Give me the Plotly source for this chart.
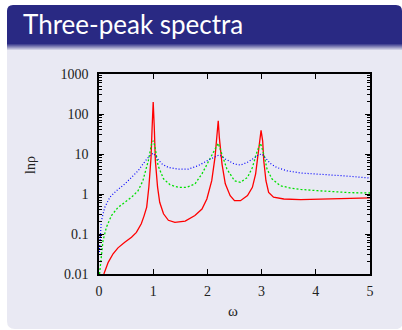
import plotly.graph_objects as go

# ---------------- data ----------------
omega_red = [0.09, 0.17, 0.26, 0.35, 0.475, 0.6, 0.69, 0.78, 0.83, 0.88, 0.92, 0.96, 0.98, 1.0,
             1.02, 1.04, 1.08, 1.12, 1.19, 1.28, 1.40, 1.59, 1.77, 1.9, 1.99, 2.08, 2.14,
             2.18, 2.2, 2.22, 2.27, 2.33, 2.42, 2.5, 2.61, 2.74, 2.83, 2.89, 2.94, 2.97,
             2.99, 3.02, 3.04, 3.08, 3.13, 3.22, 3.41, 3.72, 4.03, 4.34, 4.64, 5.0]
rho_red = [0.01, 0.0196, 0.032, 0.045, 0.062, 0.083, 0.11, 0.18, 0.28, 0.47, 1.5, 8.2, 46, 200,
           46, 6.8, 1.5, 0.62, 0.32, 0.22, 0.195, 0.21, 0.29, 0.42, 0.75, 2.15, 8.2,
           31, 68, 26, 5.6, 1.8, 0.91, 0.68, 0.68, 0.91, 1.47, 3.2, 10, 26,
           39, 21, 6.8, 2.15, 1.1, 0.83, 0.75, 0.72, 0.75, 0.76, 0.78, 0.8]

omega_green = [0.01, 0.03, 0.074, 0.136, 0.23, 0.35, 0.475, 0.6, 0.72, 0.81, 0.91, 0.97, 1.0,
               1.03, 1.09, 1.19, 1.31, 1.46, 1.62, 1.77, 1.9, 2.02, 2.11, 2.2, 2.27, 2.36,
               2.5, 2.61, 2.74, 2.83, 2.92, 2.98, 3.04, 3.10, 3.19, 3.34, 3.53, 3.72, 4.03,
               4.34, 4.64, 5.0]
rho_green = [0.01, 0.021, 0.068, 0.147, 0.29, 0.46, 0.62, 0.83, 1.2, 2.15, 6.8, 17.8, 21.5,
             16, 5.1, 2.4, 1.7, 1.47, 1.47, 1.78, 3.2, 6.8, 11, 18.5, 10, 4.2,
             2.15, 1.96, 2.6, 4.6, 12, 18.5, 10, 4.2, 2.4, 1.62, 1.41, 1.3, 1.21,
             1.13, 1.08, 1.06]

omega_blue = [0.003, 0.012, 0.043, 0.105, 0.2, 0.32, 0.475, 0.6, 0.72, 0.85, 0.94, 1.0, 1.06,
              1.15, 1.28, 1.46, 1.65, 1.83, 2.02, 2.17, 2.22, 2.33, 2.42, 2.5, 2.61, 2.74,
              2.86, 2.95, 3.01, 3.07, 3.16, 3.28, 3.47, 3.72, 4.03, 4.34, 4.64, 5.0]
rho_blue = [0.03, 0.047, 0.21, 0.46, 0.83, 1.2, 1.78, 2.6, 3.8, 6.6, 9.1, 10.5, 8.2,
            5.8, 4.6, 4.2, 4.2, 5.1, 7.1, 9.1, 9.5, 7.5, 6.5, 5.6, 5.3, 6.2,
            7.9, 9.6, 10, 8.2, 5.8, 4.6, 3.8, 3.35, 3.16, 3.0, 2.77, 2.5]

x_ticks = [0, 1, 2, 3, 4, 5]
x_ticklabels = ["0", "1", "2", "3", "4", "5"]
y_ticks = [0.01, 0.1, 1, 10, 100, 1000]
y_ticklabels = ["0.01", "0.1", "1", "10", "100", "1000"]
y_minor = [m * 10.0 ** e for e in range(-2, 3) for m in range(2, 10)]

title_text = "Three-peak spectra"
x_title = "ω"
y_title = "lnρ"

# ---------------- layout geometry (pixels) ----------------
W, H = 402, 330
L, R, T, B = 99, 370, 74, 274
TITLE_C = "rgb(41,41,131)"
BODY_C = "rgb(233,233,243)"


def px(x):
    return (x - L) / (R - L)


def py(y):
    return (B - y) / (B - T)


def rrect(x0, y0, x1, y1, rtop, rbot):
    pts = []
    pts.append(f"M{px(x0)},{py(y0 + rtop)}")
    pts.append(f"Q{px(x0)},{py(y0)} {px(x0 + rtop)},{py(y0)}")
    pts.append(f"L{px(x1 - rtop)},{py(y0)}")
    pts.append(f"Q{px(x1)},{py(y0)} {px(x1)},{py(y0 + rtop)}")
    pts.append(f"L{px(x1)},{py(y1 - rbot)}")
    pts.append(f"Q{px(x1)},{py(y1)} {px(x1 - rbot)},{py(y1)}")
    pts.append(f"L{px(x0 + rbot)},{py(y1)}")
    pts.append(f"Q{px(x0)},{py(y1)} {px(x0)},{py(y1 - rbot)}")
    pts.append("Z")
    return " ".join(pts)


shapes = []
# body block
shapes.append(dict(type="path", xref="paper", yref="paper", layer="below",
                   path=rrect(7, 40, 403, 329, 0, 8), fillcolor=BODY_C, line_width=0))
# title bar
shapes.append(dict(type="path", xref="paper", yref="paper", layer="below",
                   path=rrect(7, 5, 402, 44, 6, 0), fillcolor=TITLE_C, line_width=0))
# shadow gradient under title bar
c0 = (41, 41, 131)
c1 = (233, 233, 243)
n = 6
for i in range(n):
    t = (i + 1) / (n + 1)
    col = tuple(int(c0[k] + (c1[k] - c0[k]) * t) for k in range(3))
    shapes.append(dict(type="rect", xref="paper", yref="paper", layer="below",
                       x0=px(7), x1=px(403), y0=py(44 + i), y1=py(45 + i),
                       fillcolor=f"rgb{col}", line_width=0))

fig = go.Figure()
fig.add_trace(go.Scatter(x=omega_red, y=rho_red, mode="lines",
                         line=dict(color="#ff0000", width=1.3), showlegend=False))
fig.add_trace(go.Scatter(x=omega_green, y=rho_green, mode="lines",
                         line=dict(color="#00e000", width=1.3, dash="2px,2px"), showlegend=False))
fig.add_trace(go.Scatter(x=omega_blue, y=rho_blue, mode="lines",
                         line=dict(color="#0000ff", width=1.2, dash="1px,2px"), showlegend=False))

serif = "Liberation Serif, Times New Roman, serif"

fig.update_layout(
    width=W, height=H, autosize=False,
    margin=dict(l=L, r=W - R, t=T, b=H - B, pad=0),
    paper_bgcolor="white", plot_bgcolor="rgba(0,0,0,0)",
    shapes=shapes,
    font=dict(family=serif, size=14, color="#222"),
    annotations=[
        dict(text=title_text, xref="paper", yref="paper", x=px(21), y=py(24),
             xanchor="left", yanchor="middle", showarrow=False,
             font=dict(family="Lato, Open Sans, sans-serif", size=26, color="white")),
        dict(text=x_title, xref="paper", yref="paper", x=px(233), y=py(311),
             xanchor="center", yanchor="middle", showarrow=False,
             font=dict(family=serif, size=15, color="#222")),
        dict(text=y_title, xref="paper", yref="paper", x=px(30), y=py(165),
             xanchor="center", yanchor="middle", showarrow=False, textangle=-90,
             font=dict(family=serif, size=14, color="#222")),
    ],
)

fig.update_xaxes(
    range=[0, 5], tickmode="array", tickvals=x_ticks, ticktext=x_ticklabels,
    ticks="inside", ticklen=5, tickwidth=1, tickcolor="black",
    showline=True, linecolor="black", linewidth=1.5, mirror="allticks",
    showgrid=False, zeroline=False, ticklabelstandoff=3,
    tickfont=dict(family=serif, size=14, color="#222"),
)
fig.update_yaxes(
    type="log", range=[-2, 3], tickmode="array", tickvals=y_ticks, ticktext=y_ticklabels,
    ticks="inside", ticklen=5, tickwidth=1, tickcolor="black",
    showline=True, linecolor="black", linewidth=1.5, mirror="allticks",
    showgrid=False, zeroline=False, ticklabelstandoff=6,
    minor=dict(ticks="inside", ticklen=3, tickwidth=1, tickcolor="black",
               tickmode="array", tickvals=y_minor, showgrid=False),
    tickfont=dict(family=serif, size=14, color="#222"),
)

fig.write_html("out.html")
